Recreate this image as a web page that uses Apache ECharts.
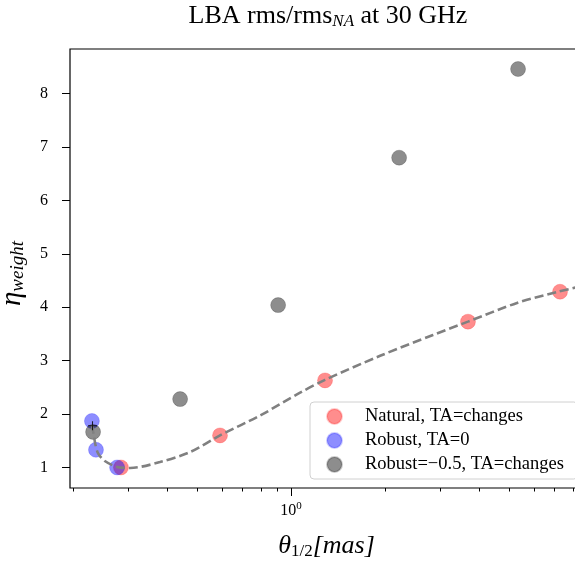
<!DOCTYPE html>
<html><head><meta charset="utf-8">
<script src="https://cdn.jsdelivr.net/npm/echarts@6/dist/echarts.min.js"></script>
<style>html,body{margin:0;padding:0;background:#fff}#c{width:575px;height:565px}</style>
</head><body><div id="c"></div>
<script>
// theta_1/2 [mas] and eta_weight values
const thetaNatural = [0.285, 0.592, 1.285, 3.69, 7.28];
const etaNatural   = [1.00, 1.60, 2.63, 3.73, 4.29];
const thetaRobust  = [0.230, 0.237, 0.277];
const etaRobust    = [1.87, 1.33, 1.00];
const thetaRobustNeg = [0.232, 0.441, 0.909, 2.22, 5.34];
const etaRobustNeg   = [1.665, 2.28, 4.04, 6.80, 8.46];
const thetaFit = [0.230, 0.233, 0.236, 0.241, 0.253, 0.277, 0.305, 0.380, 0.475, 0.592, 0.800, 1.069, 1.285, 1.93, 2.85, 3.69, 5.30, 7.18, 8.6];
const etaFit   = [1.80, 1.62, 1.43, 1.26, 1.12, 1.01, 0.99, 1.10, 1.29, 1.60, 1.98, 2.40, 2.64, 3.09, 3.48, 3.73, 4.08, 4.29, 4.40];
const thetaCross = [0.231];
const etaCross   = [1.78];
const yTicks = [1, 2, 3, 4, 5, 6, 7, 8];
const xMinorTicks = [0.2, 0.3, 0.4, 0.5, 0.6, 0.7, 0.8, 0.9, 2, 3, 4, 5, 6, 7, 8];
const xMajorTicks = [1];
const legendNames = ['Natural, TA=changes', 'Robust, TA=0', 'Robust=\u22120.5, TA=changes'];

const FONT = 'Liberation Serif';
const lg = v => Math.log10(v);
const pairs = (xs, ys) => xs.map((x, i) => [lg(x), ys[i]]);
const xMin = -0.7085, xMax = 0.9357;

const chart = echarts.init(document.getElementById('c'), null, {renderer: 'canvas'});
const baseX = {
  type: 'value', min: xMin, max: xMax, gridIndex: 0,
  axisLine: {show: false, onZero: false}, splitLine: {show: false}
};
chart.setOption({
  animation: false,
  textStyle: {fontFamily: FONT, color: '#000'},
  title: {
    text: '{a|LBA rms/rms}{s|NA}{a| at 30 GHz}',
    left: 323, top: -5, textAlign: 'center',
    textStyle: {
      fontWeight: 'normal',
      rich: {
        a: {fontFamily: FONT, fontSize: 26, fontWeight: 'normal', color: '#000', verticalAlign: 'middle', lineHeight: 32},
        s: {fontFamily: FONT, fontSize: 17, fontStyle: 'italic', fontWeight: 'normal', color: '#000', verticalAlign: 'middle', padding: [12, 0, 0, 0]}
      }
    }
  },
  grid: {left: 70, top: 49, width: 513, height: 439, show: true, borderColor: '#000', borderWidth: 1.2,
         backgroundColor: 'transparent', containLabel: false, outerBoundsMode: 'none'},
  legend: {
    orient: 'vertical', left: 310, top: 402,
    data: legendNames, icon: 'circle', itemWidth: 15, itemHeight: 15, itemGap: 5,
    padding: [5, 14, 5, 16],
    backgroundColor: 'rgba(255,255,255,0.85)', borderColor: '#d0d0d0', borderWidth: 1, borderRadius: 4,
    textStyle: {fontFamily: FONT, fontSize: 18.5, color: '#000', padding: [0, 0, 0, 18]}
  },
  xAxis: [
    Object.assign({}, baseX, {
      position: 'bottom',
      axisTick: {show: true, inside: false, length: 3.5, lineStyle: {color: '#000', width: 1}, customValues: xMinorTicks.map(lg)},
      axisLabel: {show: false}
    }),
    Object.assign({}, baseX, {
      position: 'bottom',
      axisTick: {show: true, inside: false, length: 8, lineStyle: {color: '#000', width: 1}, customValues: xMajorTicks.map(lg)},
      axisLabel: {
        show: true, margin: 13, customValues: xMajorTicks.map(lg),
        formatter: v => '{b|10}{p|' + Math.round(v) + '}',
        rich: {
          b: {fontFamily: FONT, fontSize: 16, color: '#000', verticalAlign: 'middle', lineHeight: 18},
          p: {fontFamily: FONT, fontSize: 11, color: '#000', verticalAlign: 'middle', padding: [0, 0, 9, 0]}
        }
      },
      name: '{t|\u03b8}{s|1/2}{t|[mas]}',
      nameLocation: 'middle', nameGap: 42,
      nameTextStyle: {
        rich: {
          t: {fontFamily: FONT, fontSize: 26, fontStyle: 'italic', color: '#000', verticalAlign: 'middle', lineHeight: 32},
          s: {fontFamily: FONT, fontSize: 17, color: '#000', verticalAlign: 'middle', padding: [12, 0, 0, 0]}
        }
      }
    })
  ],
  yAxis: {
    type: 'value', min: 0.615, max: 8.835,
    axisLine: {show: false, onZero: false}, splitLine: {show: false},
    axisTick: {show: true, length: 8, lineStyle: {color: '#000', width: 1}, customValues: yTicks},
    axisLabel: {fontFamily: FONT, fontSize: 16, color: '#000', margin: 22, customValues: yTicks},
    name: '{t|\u03b7}{s|weight}',
    nameLocation: 'middle', nameGap: 42, nameRotate: 90,
    nameTextStyle: {
      rich: {
        t: {fontFamily: FONT, fontSize: 29, fontStyle: 'italic', color: '#000', verticalAlign: 'middle', lineHeight: 32},
        s: {fontFamily: FONT, fontSize: 19, fontStyle: 'italic', color: '#000', verticalAlign: 'middle', padding: [12, 10, 0, 0]}
      }
    }
  },
  series: [
    {
      type: 'line', name: 'fit', data: pairs(thetaFit, etaFit), smooth: 0.3,
      showSymbol: false, symbol: 'none', z: 3, silent: true,
      lineStyle: {color: '#808080', width: 2.6, type: [9, 4]}
    },
    {
      type: 'scatter', name: legendNames[0], data: pairs(thetaNatural, etaNatural), symbolSize: 15, z: 2,
      itemStyle: {color: 'rgba(255,0,0,0.56)', borderColor: 'rgba(255,0,0,0.25)', borderWidth: 1}
    },
    {
      type: 'scatter', name: legendNames[1], data: pairs(thetaRobust, etaRobust), symbolSize: 15, z: 2,
      itemStyle: {color: 'rgba(0,0,255,0.56)', borderColor: 'rgba(0,0,255,0.25)', borderWidth: 1}
    },
    {
      type: 'scatter', name: legendNames[2], data: pairs(thetaRobustNeg, etaRobustNeg), symbolSize: 15, z: 2,
      itemStyle: {color: 'rgba(0,0,0,0.56)', borderColor: 'rgba(0,0,0,0.25)', borderWidth: 1}
    },
    {
      type: 'scatter', name: 'cross', data: pairs(thetaCross, etaCross), symbolSize: 9, z: 4,
      symbol: 'path://M4.4 0h1.2v10h-1.2zM0 4.4h10v1.2h-10z',
      itemStyle: {color: '#000'}
    }
  ]
});
</script></body></html>
